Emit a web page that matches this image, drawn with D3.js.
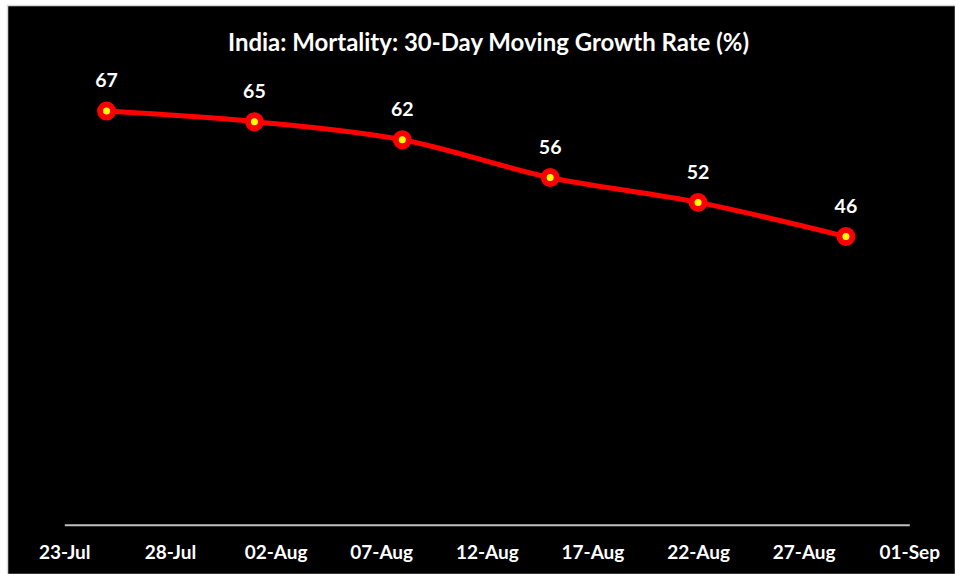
<!DOCTYPE html>
<html>
<head>
<meta charset="utf-8">
<script src="https://cdn.jsdelivr.net/npm/d3@7"></script>
<style>
  html, body { margin: 0; padding: 0; background: #ffffff; }
  svg { display: block; }
  text { font-family: Lato, "Open Sans", "Noto Sans", sans-serif; font-weight: 700; }
</style>
</head>
<body>
<svg id="chart" width="955" height="574"></svg>
<script>
// ---- data ----
const title = "India: Mortality: 30-Day Moving Growth Rate (%)";
const dates = ["2020-07-25", "2020-08-01", "2020-08-08", "2020-08-15", "2020-08-22", "2020-08-29"];
const values = [66.6, 64.9, 62.0, 55.9, 51.9, 46.4];
const tickDates = ["2020-07-23", "2020-07-28", "2020-08-02", "2020-08-07", "2020-08-12", "2020-08-17", "2020-08-22", "2020-08-27", "2020-09-01"];
const yDomain = [0, 80];

const parse = d3.timeParse("%Y-%m-%d");
const data = dates.map((d, i) => ({ date: parse(d), value: values[i] }));
const ticks = tickDates.map(parse);

const svg = d3.select("#chart");
const W = 955, H = 574;

// background
svg.append("rect").attr("x", 0).attr("y", 0).attr("width", W).attr("height", H).attr("fill", "#ffffff");
svg.append("rect").attr("x", 7.5).attr("y", 5.5).attr("width", W - 7).attr("height", H - 5)
  .attr("fill", "#000000").attr("stroke", "#d9d9d9").attr("stroke-width", 1.5);

// scales
const x = d3.scaleTime().domain([ticks[0], ticks[ticks.length - 1]]).range([64.3, 909.3]);
const y = d3.scaleLinear().domain(yDomain).range([524.7, 524.7 - 80 * 6.21]);

// axis
const axis = d3.axisBottom(x)
  .tickValues(ticks)
  .tickSize(0)
  .tickPadding(21)
  .tickFormat(d3.timeFormat("%d-%b"));
const gx = svg.append("g").attr("transform", `translate(0,${y(0)})`).call(axis);
gx.select(".domain").attr("stroke", "#bfbfbf").attr("stroke-width", 2);
gx.selectAll("text").attr("fill", "#ffffff").style("font-size", "19px")
  .style("font-family", "Lato, 'Open Sans', sans-serif").style("font-weight", 700);

// line
const line = d3.line().x(d => x(d.date)).y(d => y(d.value)).curve(d3.curveCatmullRom.alpha(0.5));
svg.append("path").datum(data).attr("d", line)
  .attr("fill", "none").attr("stroke", "#ff0000").attr("stroke-width", 5)
  .attr("stroke-linejoin", "round").attr("stroke-linecap", "round");

// markers
svg.selectAll("circle.pt").data(data).join("circle").attr("class", "pt")
  .attr("cx", d => x(d.date)).attr("cy", d => y(d.value)).attr("r", 6.5)
  .attr("fill", "#ffff00").attr("stroke", "#ff0000").attr("stroke-width", 6);

// data labels
svg.selectAll("text.lbl").data(data).join("text").attr("class", "lbl")
  .attr("x", d => x(d.date)).attr("y", d => y(d.value) - 23.7)
  .attr("text-anchor", "middle").attr("fill", "#ffffff").style("font-size", "19.5px")
  .text(d => d3.format(".0f")(d.value));

// title
const t = svg.append("text").attr("x", 488.5).attr("y", 50.5)
  .attr("text-anchor", "middle").attr("fill", "#ffffff").style("font-size", "22px").text(title);
const len = t.node().getComputedTextLength();
t.style("font-size", (22 * 521 / len).toFixed(2) + "px");
</script>
</body>
</html>
